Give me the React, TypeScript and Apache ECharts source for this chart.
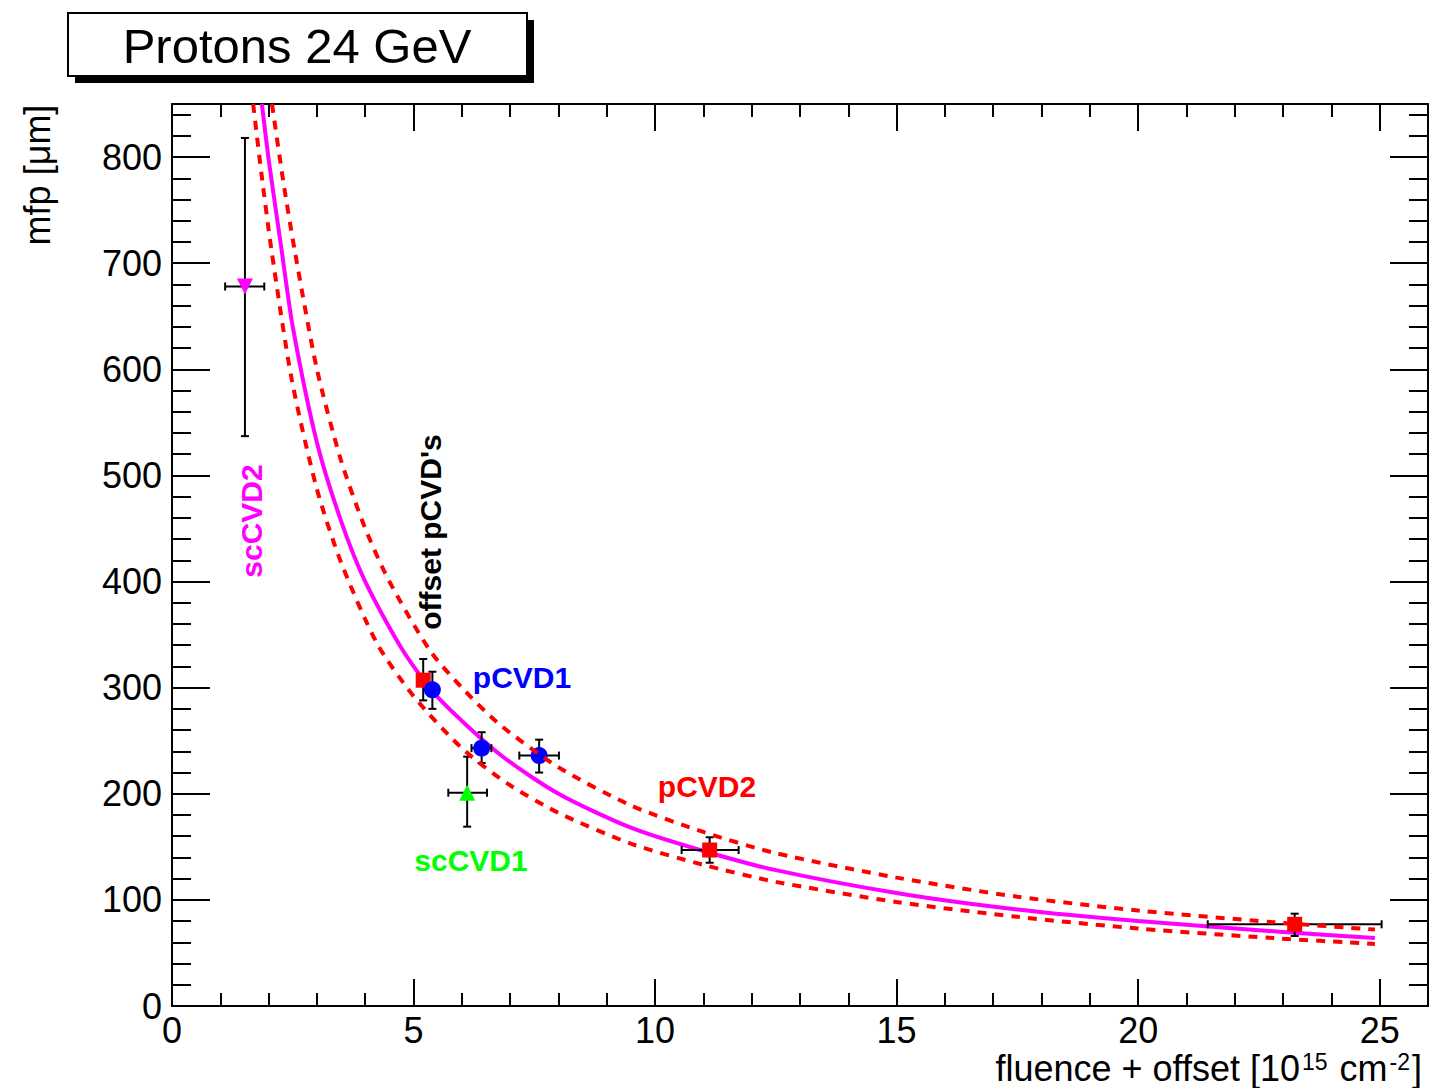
import React, { useEffect, useRef } from "react";
import * as echarts from "echarts";

// ---- Data ----
// Fit curve (magenta, solid)
const fitX = [1.86, 2.0, 2.27, 2.5, 3.0, 3.5, 4.0, 4.78, 5.5, 6.79, 8, 9.5, 10.93, 12.5, 15.06, 17.5, 20, 22.93, 24.9];
const fitY = [850, 798, 712, 640, 531, 457, 400, 335, 291, 237, 200, 168, 147, 128, 106, 91, 80, 70, 64];
// Upper band (red, dashed)
const upX = [2.07, 2.3, 2.54, 3, 3.5, 4, 4.5, 5.34, 6, 6.79, 8, 9.5, 11, 12.5, 15, 17.5, 20, 22.8, 24.9];
const upY = [850, 778, 712, 600, 514, 450, 400, 335, 300, 265, 225, 189, 164, 144, 121, 103, 90, 79, 72];
// Lower band (red, dashed)
const loX = [1.68, 1.85, 2.06, 2.48, 3, 3.5, 4.24, 5, 6, 6.93, 8, 9.5, 11, 12.5, 15, 17.5, 20, 22.8, 24.9];
const loY = [850, 785, 712, 590, 487, 418, 342, 292, 243, 210, 182, 153, 133, 117, 98, 84, 73, 64, 58.5];

// Measurements: x, y, xLow, xHigh, yLow, yHigh
const scCVD2 = [[1.51, 678, 1.1, 1.91, 537, 818]];
const pCVD1 = [
  [5.39, 298, 5.3, 5.48, 280, 315],
  [6.41, 243, 6.2, 6.61, 229, 258],
  [7.6, 236, 7.19, 8.01, 220, 251],
];
const pCVD2 = [
  [5.2, 307, 5.12, 5.28, 288, 327],
  [11.13, 147, 10.55, 11.73, 135, 159],
  [23.24, 77, 21.44, 25.04, 66, 87],
];
const scCVD1 = [[6.11, 201, 5.72, 6.52, 169, 235]];

const xTicks = [0, 5, 10, 15, 20, 25];
const yTicks = [0, 100, 200, 300, 400, 500, 600, 700, 800];

const FONT = '"Liberation Sans", Arial, Helvetica, sans-serif';

function zip(xs: number[], ys: number[]) {
  return xs.map((x, i) => [x, ys[i]]);
}

export default function App() {
  const ref = useRef<HTMLDivElement>(null);
  useEffect(() => {
    if (!ref.current) return;
    const chart = echarts.init(ref.current, undefined, { renderer: "svg" });

    const tickStyle = { color: "#000", width: 2 };
    const mkX = (pos: string, major: boolean, labels: boolean) => ({
      type: "value",
      min: 0,
      max: 26,
      interval: major ? 5 : 1,
      position: pos,
      axisLine: { show: major, onZero: false, lineStyle: { color: "#000", width: 2 } },
      axisTick: { show: true, inside: true, length: major ? 27 : 13, lineStyle: tickStyle },
      axisLabel: {
        show: labels,
        fontSize: 36,
        color: "#000",
        fontFamily: FONT,
        margin: 6,
        formatter: (v: number) => (xTicks.indexOf(v) >= 0 ? String(v) : ""),
      },
      splitLine: { show: false },
    });
    const mkY = (pos: string, major: boolean, labels: boolean) => ({
      type: "value",
      min: 0,
      max: 850,
      interval: major ? 100 : 20,
      position: pos,
      axisLine: { show: major, onZero: false, lineStyle: { color: "#000", width: 2 } },
      axisTick: { show: true, inside: true, length: major ? 38 : 19, lineStyle: tickStyle },
      axisLabel: {
        show: labels,
        fontSize: 36,
        color: "#000",
        fontFamily: FONT,
        margin: 10,
        formatter: (v: number) => (yTicks.indexOf(v) >= 0 ? String(v) : ""),
      },
      splitLine: { show: false },
    });

    const errSeries = (data: number[][]) => ({
      type: "custom",
      z: 3,
      data,
      encode: { x: [0, 2, 3], y: [1, 4, 5] },
      renderItem: (params: any, api: any) => {
        const x = api.value(0), y = api.value(1);
        const pL = api.coord([api.value(2), y]);
        const pR = api.coord([api.value(3), y]);
        const pB = api.coord([x, api.value(4)]);
        const pT = api.coord([x, api.value(5)]);
        const c = 4;
        const style = { stroke: "#000", lineWidth: 2 };
        return {
          type: "group",
          children: [
            { type: "line", shape: { x1: pL[0], y1: pL[1], x2: pR[0], y2: pR[1] }, style },
            { type: "line", shape: { x1: pL[0], y1: pL[1] - c, x2: pL[0], y2: pL[1] + c }, style },
            { type: "line", shape: { x1: pR[0], y1: pR[1] - c, x2: pR[0], y2: pR[1] + c }, style },
            { type: "line", shape: { x1: pB[0], y1: pB[1], x2: pT[0], y2: pT[1] }, style },
            { type: "line", shape: { x1: pB[0] - c, y1: pB[1], x2: pB[0] + c, y2: pB[1] }, style },
            { type: "line", shape: { x1: pT[0] - c, y1: pT[1], x2: pT[0] + c, y2: pT[1] }, style },
          ],
        };
      },
    });

    const scatter = (data: number[][], color: string, symbol: string, size: number, rot = 0) => ({
      type: "scatter",
      z: 4,
      data: data.map((d) => [d[0], d[1]]),
      symbol,
      symbolSize: size,
      symbolRotate: rot,
      itemStyle: { color, opacity: 1 },
    });

    const curve = (xs: number[], ys: number[], color: string, dashed: boolean, z: number) => ({
      type: "line",
      z,
      data: zip(xs, ys),
      showSymbol: false,
      smooth: 0.25,
      lineStyle: dashed ? { color, width: 4, type: [9, 8] } : { color, width: 4 },
    });

    const label = (text: string, x: number, y: number, color: string, rotation = 0) => ({
      type: "text",
      x,
      y,
      rotation,
      z: 10,
      style: {
        text,
        fill: color,
        font: `bold 30px ${FONT}`,
        align: "center",
        verticalAlign: "middle",
        textAlign: "center",
        textVerticalAlign: "middle",
      },
    });

    chart.setOption({
      animation: false,
      backgroundColor: "#fff",
      grid: { left: 172, right: 7, top: 104, bottom: 82, containLabel: false },
      xAxis: [mkX("bottom", true, true), mkX("bottom", false, false), mkX("top", true, false), mkX("top", false, false)],
      yAxis: [mkY("left", true, true), mkY("left", false, false), mkY("right", true, false), mkY("right", false, false)],
      series: [
        curve(fitX, fitY, "#ff00ff", false, 2),
        errSeries(scCVD2),
        errSeries(pCVD1),
        errSeries(pCVD2),
        errSeries(scCVD1),
        scatter(pCVD2, "#ff0000", "rect", 15),
        scatter(pCVD1, "#0000ff", "circle", 17),
        scatter(scCVD1, "#00ff00", "triangle", 16),
        scatter(scCVD2, "#ff00ff", "triangle", 16, 180),
        curve(upX, upY, "#ff0000", true, 5),
        curve(loX, loY, "#ff0000", true, 5),
      ],
      graphic: [
        { type: "rect", z: 10, shape: { x: 75, y: 20, width: 459, height: 63 }, style: { fill: "#000" } },
        {
          type: "rect",
          z: 11,
          shape: { x: 68, y: 13, width: 459, height: 63 },
          style: { fill: "#fff", stroke: "#000", lineWidth: 2 },
        },
        {
          type: "text",
          z: 12,
          x: 297,
          y: 46,
          style: {
            text: "Protons 24 GeV",
            fill: "#000",
            font: `49px ${FONT}`,
            align: "center",
            verticalAlign: "middle",
            textAlign: "center",
            textVerticalAlign: "middle",
          },
        },
        {
          type: "text",
          z: 10,
          x: 37,
          y: 175,
          rotation: Math.PI / 2,
          style: {
            text: "mfp [μm]",
            fill: "#000",
            font: `36px ${FONT}`,
            align: "center",
            verticalAlign: "middle",
            textAlign: "center",
            textVerticalAlign: "middle",
          },
        },
        {
          type: "text",
          z: 10,
          x: 1422,
          y: 1068,
          style: {
            text: "fluence + offset [10{sup|15} cm{sup|-2}]",
            fill: "#000",
            font: `36px ${FONT}`,
            fontSize: 36,
            fontFamily: FONT,
            align: "right",
            verticalAlign: "middle",
            textAlign: "right",
            textVerticalAlign: "middle",
            lineHeight: 36,
            rich: {
              sup: { fontSize: 23, fontFamily: FONT, fill: "#000", verticalAlign: "top", lineHeight: 36, padding: [0, 2, 0, 2] },
            },
          },
        },
        label("pCVD1", 522, 677, "#0000ff"),
        label("pCVD2", 707, 786, "#ff0000"),
        label("scCVD1", 471, 860, "#00ff00"),
        label("scCVD2", 251, 521, "#ff00ff", Math.PI / 2),
        label("offset pCVD's", 430, 532, "#000", Math.PI / 2),
      ],
    });

    return () => chart.dispose();
  }, []);

  return (
    <div
      ref={ref}
      style={{ position: "absolute", left: 0, top: 0, width: 1435, height: 1088, background: "#fff" }}
    />
  );
}
